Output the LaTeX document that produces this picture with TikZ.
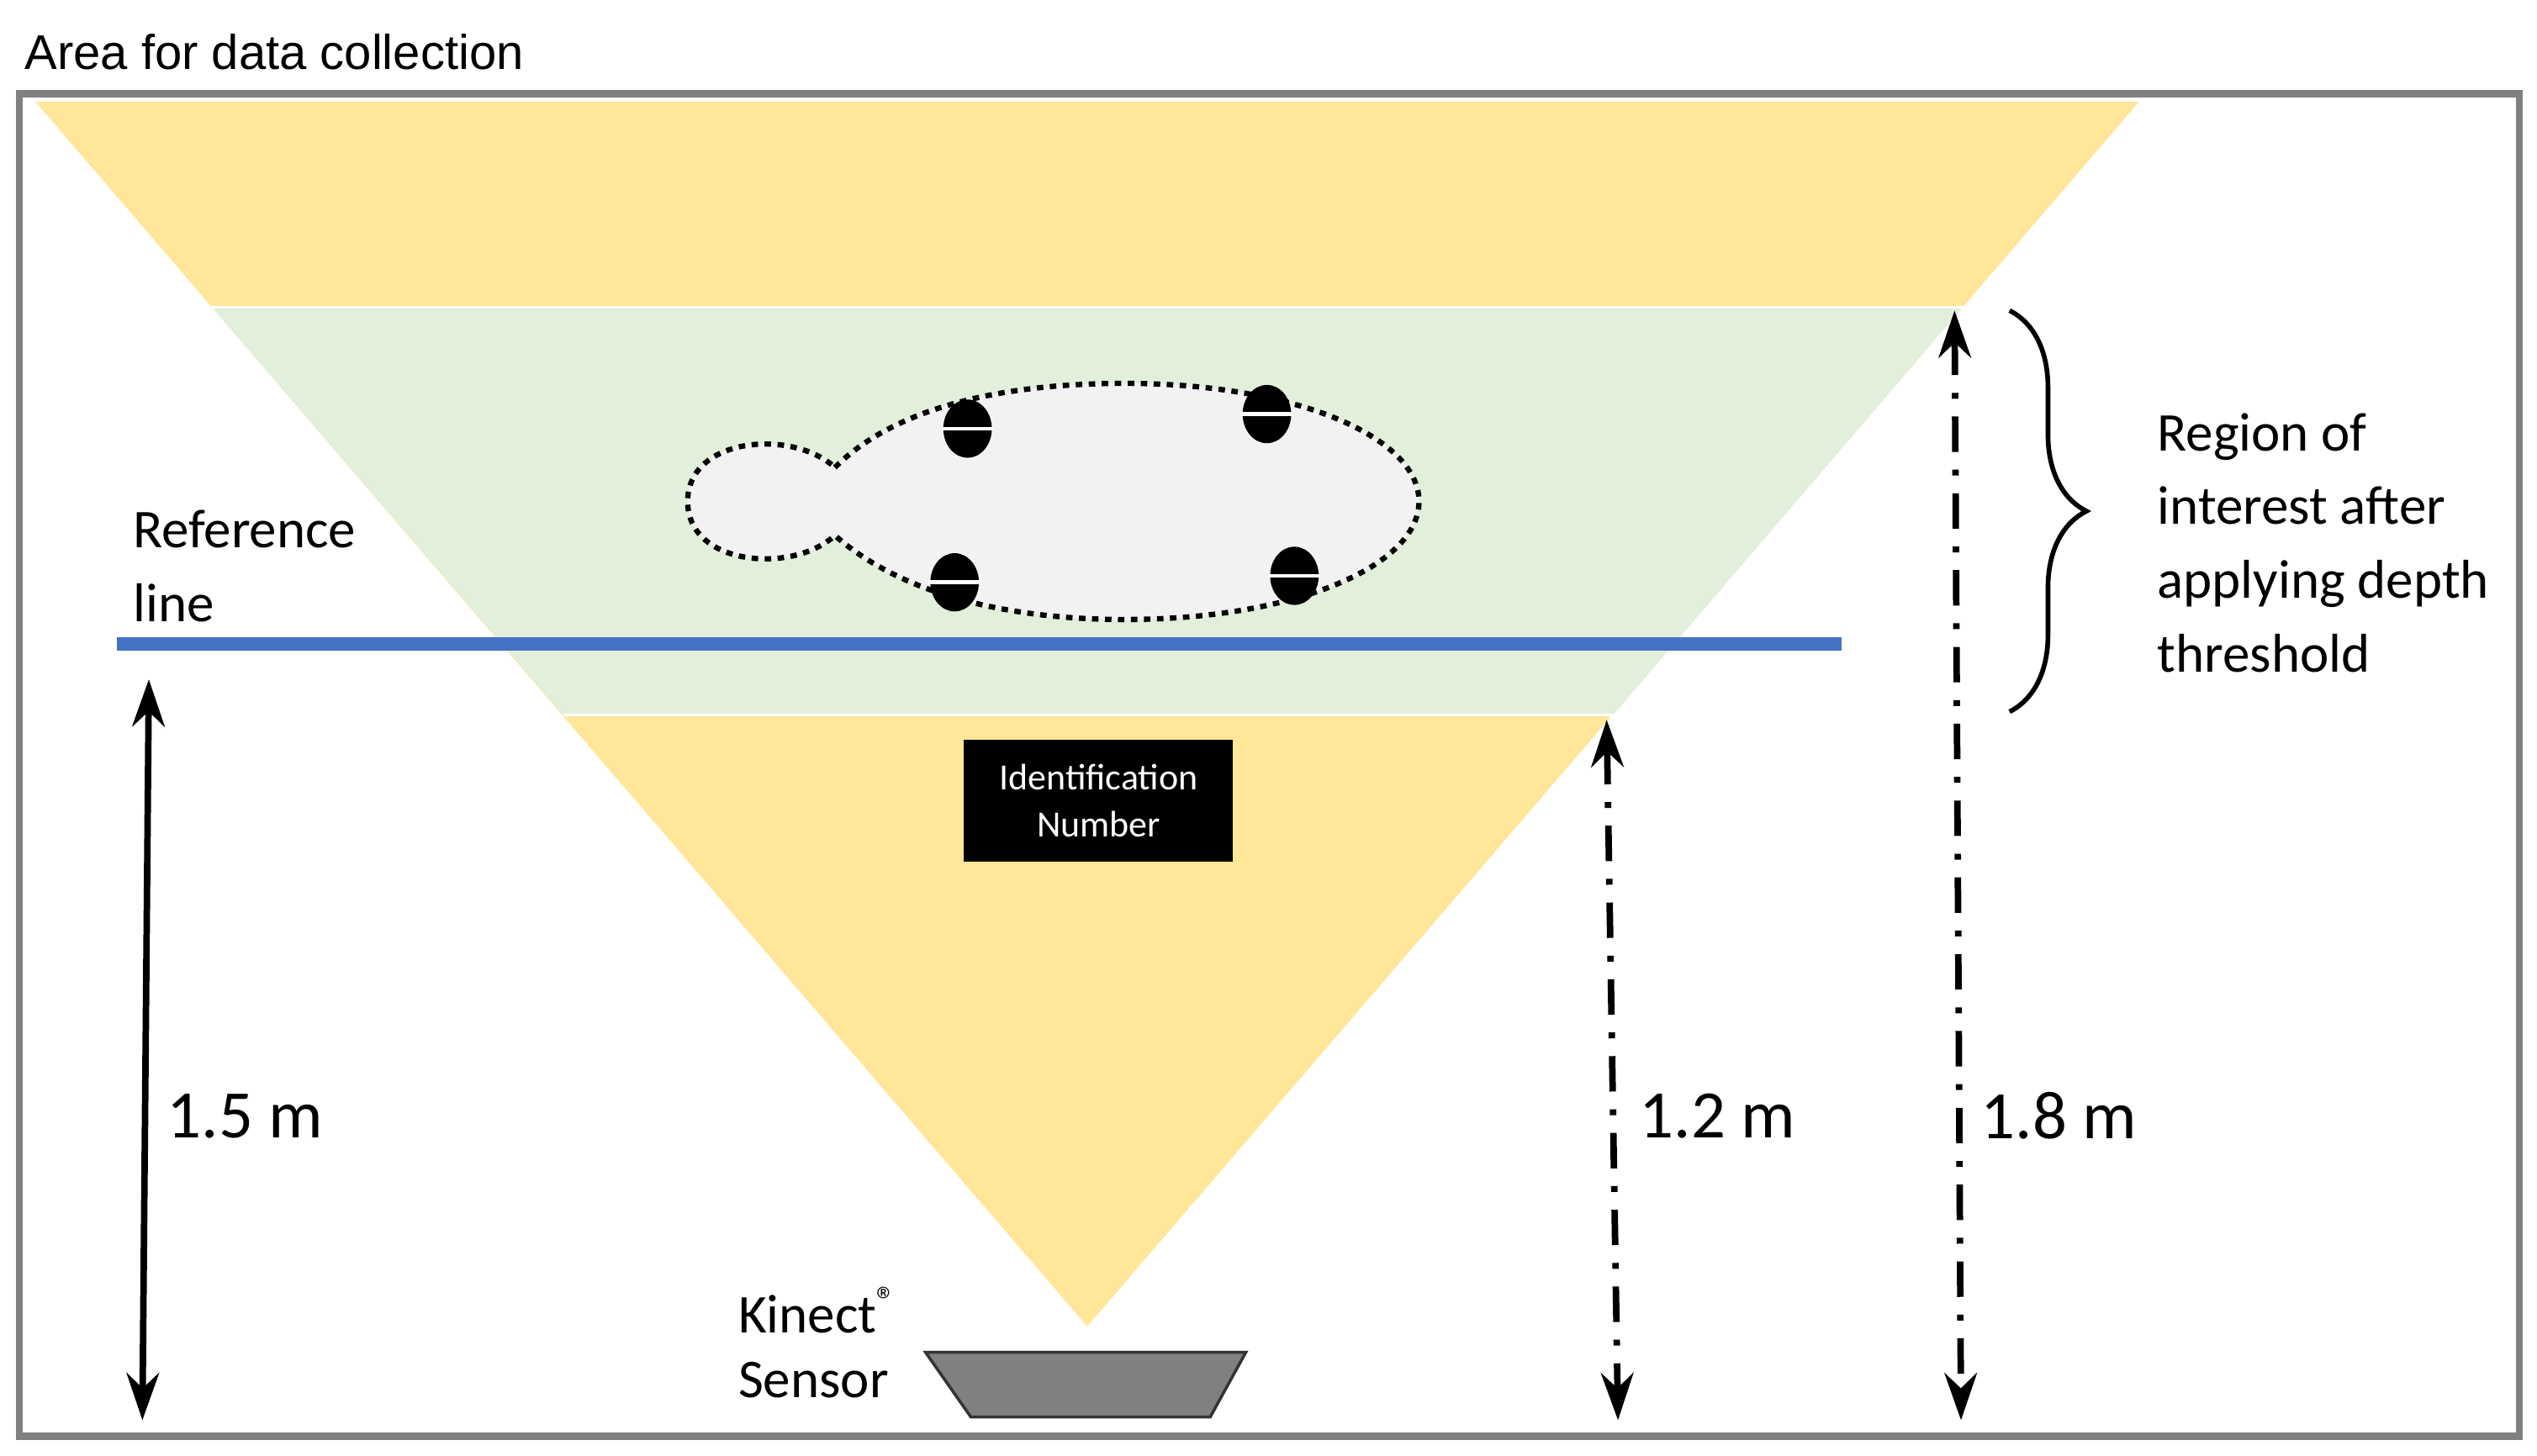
\documentclass[tikz,border=0pt]{standalone}
\usepackage{fontspec}
\setmainfont{Carlito}
\newfontfamily\arialf{Liberation Sans}
\usetikzlibrary{arrows.meta,decorations.pathreplacing}
\definecolor{yel}{HTML}{FFE699}
\definecolor{grn}{HTML}{E2EFDA}
\definecolor{blu}{HTML}{4472C4}
\definecolor{frm}{HTML}{808080}
\begin{document}
\begin{tikzpicture}[x=0.01924cm,y=-0.01924cm,
  lbl/.style={anchor=west,inner sep=0,font=\fontsize{18.5}{25}\selectfont,align=left},
  big/.style={anchor=west,inner sep=0,font=\fontsize{23}{28}\selectfont},
  dim/.style={line width=2.2pt,{Stealth[length=16pt,width=11pt]}-{Stealth[length=16pt,width=11pt]}},
  dd/.style={dim,dash pattern=on 12pt off 6pt on 2pt off 6pt},
  hoof/.style={fill=black}]
\useasboundingbox (0,0) rectangle (1568,900);
% field of view
\fill[yel] (22,63) -- (1322,63) -- (672,820) -- cycle;
\fill[grn] (131,190) -- (1213,190) -- (997,442) -- (348,442) -- cycle;
\draw[white,line width=0.8pt] (131,190) -- (1213,190) (348,442) -- (997,442);
% frame and title
\draw[frm,line width=2.4pt] (12,58) rectangle (1557,888);
\node[anchor=west,inner sep=0,font=\arialf\fontsize{16.5}{20}\selectfont] (title) at (15,32) {Area for data collection};
% cow
\draw[fill=black!5,line width=1.8pt,dash pattern=on 2.2pt off 2.2pt]
  (516,289) .. controls (560,245) and (640,237) .. (695,237)
  .. controls (800,237) and (877,270) .. (877,310)
  .. controls (877,350) and (800,383) .. (695,383)
  .. controls (630,383) and (560,370) .. (516,331)
  .. controls (490,355) and (425,350) .. (425,310)
  .. controls (425,270) and (490,265) .. (516,289) -- cycle;
\foreach \p/\q in {598/265,783/256,590/360,800/356}{
  \fill[hoof] (\p,\q) ellipse (15 and 18);
  \draw[white,line width=1.3pt] (\p-16,\q) -- (\p+16,\q);
}
% reference line
\fill[blu] (72,394) rectangle (1138,402);
\node[lbl] (ref) at (82,350) {Reference\\line};
% ID
\node[fill=black,text=white,minimum width=176\pgflinewidth,inner sep=0,font=\fontsize{12.5}{16}\selectfont,align=center,text width=3.2cm,minimum height=1.45cm] (id) at (679,495) {Identification\\Number};
% sensor
\draw[fill=frm,draw=black!80,line width=1pt] (572,836) -- (770,836) -- (748,876) -- (600,876) -- cycle;
\node[lbl] (kin) at (456,810) {Kinect\textsuperscript{®}};
\node[lbl] (sen) at (456,853) {Sensor};
% dimensions
\coordinate (a1) at (92,420); \coordinate (a2) at (88,878);
\draw[dim] (a1) -- (a2);
\node[big] (l15) at (103,690) {1.5 m};
\coordinate (b1) at (993,445); \coordinate (b2) at (1000,878);
\draw[dd] (b1) -- (b2);
\node[big] (l12) at (1013,690) {1.2 m};
\coordinate (c1) at (1208,192); \coordinate (c2) at (1212,878);
\draw[dd] (c1) -- (c2);
\node[big] (l18) at (1224,690) {1.8 m};
% brace
\coordinate (r1) at (1242,192); \coordinate (r2) at (1242,440);
\draw[line width=1.6pt,decorate,decoration={brace,amplitude=26pt}] (r1) -- (r2);
\node[lbl,anchor=north west] (roi) at (1333,255) {Region of\\interest after\\applying depth\\threshold};
\end{tikzpicture}
\end{document}
